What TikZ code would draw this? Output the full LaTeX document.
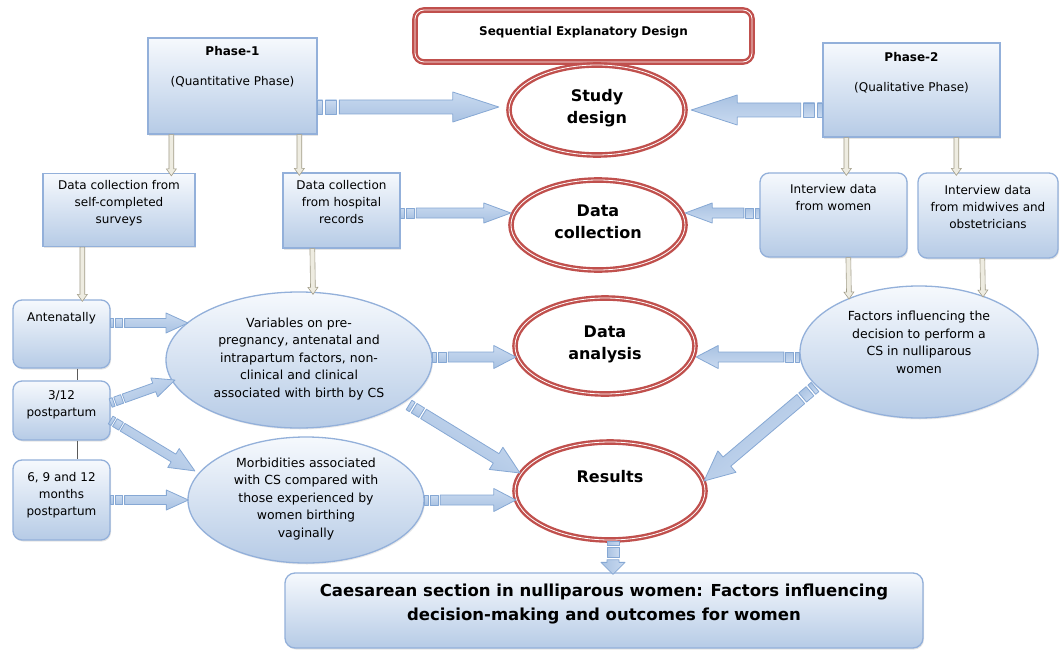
\documentclass[tikz,border=0pt]{standalone}
\usepackage{fontspec}
\setmainfont{DejaVu Sans}
\usetikzlibrary{shapes.geometric,calc,shadows}

\definecolor{rimred}{HTML}{C0504D}
\definecolor{boxline}{HTML}{93B0DA}
\definecolor{boxlow}{HTML}{B6CBE6}
\definecolor{boxhigh}{HTML}{F6F9FD}
\definecolor{arrline}{HTML}{86A8D4}
\definecolor{arrtop}{HTML}{C9DAF0}
\definecolor{arrmid}{HTML}{F5F8FC}
\definecolor{arrbot}{HTML}{A9C2E2}
\definecolor{stemfill}{HTML}{EEECE1}
\definecolor{stemline}{HTML}{A39E8A}
\definecolor{linkgray}{HTML}{5A5A5A}

\newcommand\bodyfont{\fontsize{12}{17}\selectfont}
\newcommand\ovalfont{\fontsize{12.5}{17.5}\selectfont}
\newcommand\headfont{\fontsize{16}{22}\selectfont\bfseries}
\newcommand\titlefont{\fontsize{12}{17}\selectfont\bfseries}
\newcommand\finalfont{\fontsize{16.5}{24}\selectfont\bfseries}

% direction and length of a connector, kept globally for the drawing scope
\newcommand\arrowframe[2]{%
  \path let \p1=(#1), \p2=(#2) in
    \pgfextra{%
      \pgfmathsetmacro\arrAngle{atan2(\y2-\y1,\x2-\x1)}%
      \pgfmathsetmacro\arrLen{veclen(\x2-\x1,\y2-\y1)}%
      \xdef\arrAngleG{\arrAngle}\xdef\arrLenG{\arrLen}};}

% striped block arrow: #1 half shaft, #2 half head, #3 head length, #4 tail, #5 tip
\newcommand\stripedarrow[5]{%
  \arrowframe{#4}{#5}%
  \begin{scope}[shift={(#4)}, rotate=\arrAngleG]
    \pgfmathsetmacro\stA{0.7*#1}%
    \pgfmathsetmacro\stB{1.1*#1}%
    \pgfmathsetmacro\stC{2.7*#1}%
    \pgfmathsetmacro\stD{3.1*#1}%
    \pgfmathsetmacro\stH{\arrLenG-#3}%
    \path[arrowbody, shading angle=\arrAngleG] (0pt,-#1pt) -- (\stA pt,-#1pt) -- (\stA pt,#1pt) -- (0pt,#1pt) -- cycle;
    \path[arrowbody, shading angle=\arrAngleG] (\stB pt,-#1pt) -- (\stC pt,-#1pt) -- (\stC pt,#1pt) -- (\stB pt,#1pt) -- cycle;
    \path[arrowbody, shading angle=\arrAngleG] (\stD pt,-#1pt) -- (\stH pt,-#1pt) -- (\stH pt,-#2pt)
      -- (\arrLenG pt,0pt) -- (\stH pt,#2pt) -- (\stH pt,#1pt) -- (\stD pt,#1pt) -- cycle;
  \end{scope}}

% thin beige arrow from a box down to the next step
\newcommand\stemarrow[2]{%
  \arrowframe{#1}{#2}%
  \begin{scope}[shift={(#1)}, rotate=\arrAngleG]
    \pgfmathsetmacro\stH{\arrLenG-7}%
    \path[stembody] (0pt,-2.4pt) -- (\stH pt,-2.4pt) -- (\stH pt,-5pt) -- (\arrLenG pt,0pt)
      -- (\stH pt,5pt) -- (\stH pt,2.4pt) -- (0pt,2.4pt) -- cycle;
  \end{scope}}

\tikzset{
  plainbox/.style={rectangle, draw=boxline, line width=1.3pt, top color=boxhigh, bottom color=boxlow,
    inner sep=0pt, drop shadow={shadow xshift=1pt, shadow yshift=-1.5pt, opacity=0.2}},
  roundbox/.style={plainbox, rounded corners=9pt},
  blueoval/.style={ellipse, draw=boxline, line width=1.3pt, top color=boxhigh, bottom color=boxlow,
    inner sep=0pt, align=center, font=\ovalfont,
    execute at begin node=\strut, execute at end node=\strut,
    drop shadow={shadow xshift=1pt, shadow yshift=-1.5pt, opacity=0.16}},
  redoval/.style={ellipse, draw=rimred, line width=2.4pt, double=white, double distance=0.8pt,
    fill=white, inner sep=0pt, align=center, font=\headfont,
    execute at begin node=\strut, execute at end node=\strut},
  redbox/.style={rectangle, rounded corners=9pt, draw=rimred, line width=2.4pt, double=white,
    double distance=0.8pt, fill=white, inner sep=0pt},
  txt/.style={align=center, inner sep=0pt, font=\bodyfont,
    execute at begin node=\strut, execute at end node=\strut},
  arrowbody/.style={draw=arrline, line width=0.8pt, line join=round,
    top color=arrtop, middle color=arrmid, bottom color=arrbot},
  stembody/.style={draw=stemline, line width=0.6pt, fill=stemfill},
  linkline/.style={draw=linkgray, line width=1.2pt}
}

\begin{document}
\begin{tikzpicture}[x=1pt, y=-1pt]
\fill[white] (0,0) rectangle (1062,650);
\useasboundingbox (0,0) rectangle (1062,650);

% design banner
\node[redbox, minimum width=337pt, minimum height=52pt] (title) at (583.5,36) {};
\node[txt, font=\titlefont] (titletext) at ($(title.center)+(0,-3.5)$) {Sequential Explanatory Design};

% the two phases
\node[plainbox, minimum width=169pt, minimum height=96pt] (phase1) at (232.5,86) {};
\node[txt] (phase1text) at ($(phase1.north)+(0,31)$) {\textbf{Phase-1}\\[13pt](Quantitative Phase)};
\node[plainbox, minimum width=177pt, minimum height=94pt] (phase2) at (911.5,90) {};
\node[txt] (phase2text) at ($(phase2.north)+(0,32.6)$) {\textbf{Phase-2}\\[13pt](Qualitative Phase)};

% central stages
\node[redoval, minimum width=176pt, minimum height=90pt] (study) at (597,110) {Study\\design};
\node[redoval, minimum width=174pt, minimum height=90pt] (collect) at (598,225) {Data\\collection};
\node[redoval, minimum width=180pt, minimum height=96pt] (analysis) at (605,346) {Data\\analysis};
\node[redoval, minimum width=190pt, minimum height=98pt] (results) at (610,491) {};
\node[txt, font=\headfont] (resultstext) at ($(results.center)+(0,-13)$) {Results};

% data sources
\node[plainbox, minimum width=152pt, minimum height=73pt] (surveys) at (119,210) {};
\node[txt] (surveystext) at ($(surveys.north)+(0,31.6)$) {Data collection from\\self-completed\\surveys};
\node[plainbox, minimum width=117pt, minimum height=75pt] (hospital) at (341.5,210.5) {};
\node[txt] (hospitaltext) at ($(hospital.north)+(0,32.6)$) {Data collection\\from hospital\\records};
\node[roundbox, minimum width=147pt, minimum height=84pt] (women) at (833.5,215) {};
\node[txt] (womentext) at ($(women.north)+(0,28)$) {Interview data\\from women};
\node[roundbox, minimum width=140pt, minimum height=85pt] (midwives) at (988,215.5) {};
\node[txt] (midwivestext) at ($(midwives.north)+(0,37.6)$) {Interview data\\from midwives and\\obstetricians};

% survey time points
\node[roundbox, minimum width=97pt, minimum height=68pt] (antenatal) at (61.5,334) {};
\node[txt] (antenataltext) at ($(antenatal.north)+(0,18.6)$) {Antenatally};
\node[roundbox, minimum width=97pt, minimum height=59pt] (post3) at (61.5,410.5) {};
\node[txt] (post3text) at ($(post3.north)+(0,26)$) {3/12\\postpartum};
\node[roundbox, minimum width=97pt, minimum height=80pt] (post6) at (61.5,500) {};
\node[txt] (post6text) at ($(post6.north)+(0,37)$) {6, 9 and 12\\months\\postpartum};

% analysed outcomes
\node[blueoval, minimum width=266pt, minimum height=136pt] (variables) at (299,360)
  {Variables on pre-\\pregnancy, antenatal and\\intrapartum factors, non-\\clinical and clinical\\associated with birth by CS};
\node[blueoval, minimum width=236pt, minimum height=126pt] (morbid) at (306,500)
  {Morbidities associated\\with CS compared with\\those experienced by\\women birthing\\vaginally};
\node[blueoval, minimum width=238pt, minimum height=132pt] (factors) at (919,352) {};
\node[txt, font=\ovalfont] (factorstext) at ($(factors.center)+(0,-7)$) {Factors influencing the\\decision to perform a\\CS in nulliparous\\women};

% overall outcome
\node[roundbox, minimum width=638pt, minimum height=75pt, rounded corners=10pt] (final) at (604,610.5) {};
\node[txt, font=\finalfont] (finaltext) at ($(final.center)+(0,-4.5)$)
  {Caesarean section in nulliparous women: Factors influencing\\decision-making and outcomes for women};

% links between time points
\draw[linkline] ([xshift=16pt]antenatal.south) -- ([xshift=16pt]post3.north);
\draw[linkline] ([xshift=16pt]post3.south) -- ([xshift=16pt]post6.north);

% downward flow
\stemarrow{$(phase1.south west)+(24,0)$}{$(surveys.north west)+(129,3)$}
\stemarrow{$(phase1.south west)+(152,0)$}{$(hospital.north west)+(17,3)$}
\stemarrow{$(surveys.south west)+(40,0)$}{$(antenatal.north west)+(70,2)$}
\stemarrow{$(hospital.south west)+(30,0)$}{$(variables.north)+(14,3)$}
\stemarrow{$(phase2.south west)+(24,0)$}{$(women.north west)+(87,3)$}
\stemarrow{$(phase2.south west)+(134,0)$}{$(midwives.north west)+(39,3)$}
\stemarrow{$(women.south west)+(89,0)$}{$(factors.center)+(-70,-53)$}
\stemarrow{$(midwives.south west)+(65,0)$}{$(factors.center)+(64,-55)$}

% block arrows into the stages
\stripedarrow{7}{15}{46}{$(phase1.east)+(0,21)$}{$(study.west)+(-9,-3)$}
\stripedarrow{7}{15}{46}{$(phase2.west)+(0,20)$}{$(study.east)+(5,0)$}
\stripedarrow{5}{10}{27}{$(hospital.east)+(0,2.5)$}{$(collect.west)+(1,-12)$}
\stripedarrow{5}{10}{27}{$(women.west)+(0,-2)$}{$(collect.east)+(-1,-12)$}
\stripedarrow{4.5}{10}{22}{$(antenatal.east)+(0,-11)$}{$(variables.center)+(-111,-37)$}
\stripedarrow{4.5}{10}{22}{$(post3.east)+(0,-7.5)$}{$(variables.center)+(-124,20)$}
\stripedarrow{4.5}{11}{25}{$(post3.east)+(0,9.5)$}{$(morbid.center)+(-111,-29)$}
\stripedarrow{4.5}{10}{22}{$(post6.east)$}{$(morbid.west)+(1,0)$}
\stripedarrow{5}{11.5}{22}{$(variables.east)+(0,-3)$}{$(analysis.west)+(2,11)$}
\stripedarrow{5.5}{13}{28}{$(variables.center)+(110,45)$}{$(results.center)+(-90,-18)$}
\stripedarrow{5}{11.5}{22}{$(morbid.east)$}{$(results.west)+(2,9)$}
\stripedarrow{5}{11.5}{22}{$(factors.west)+(0,5)$}{$(analysis.east)+(0,11)$}
\stripedarrow{6}{14}{30}{$(factors.center)+(-104,35)$}{$(results.center)+(94,-10)$}
\stripedarrow{6}{12}{12}{$(results.south)+(3,0)$}{$(final.north)+(9,2)$}
\end{tikzpicture}
\end{document}
